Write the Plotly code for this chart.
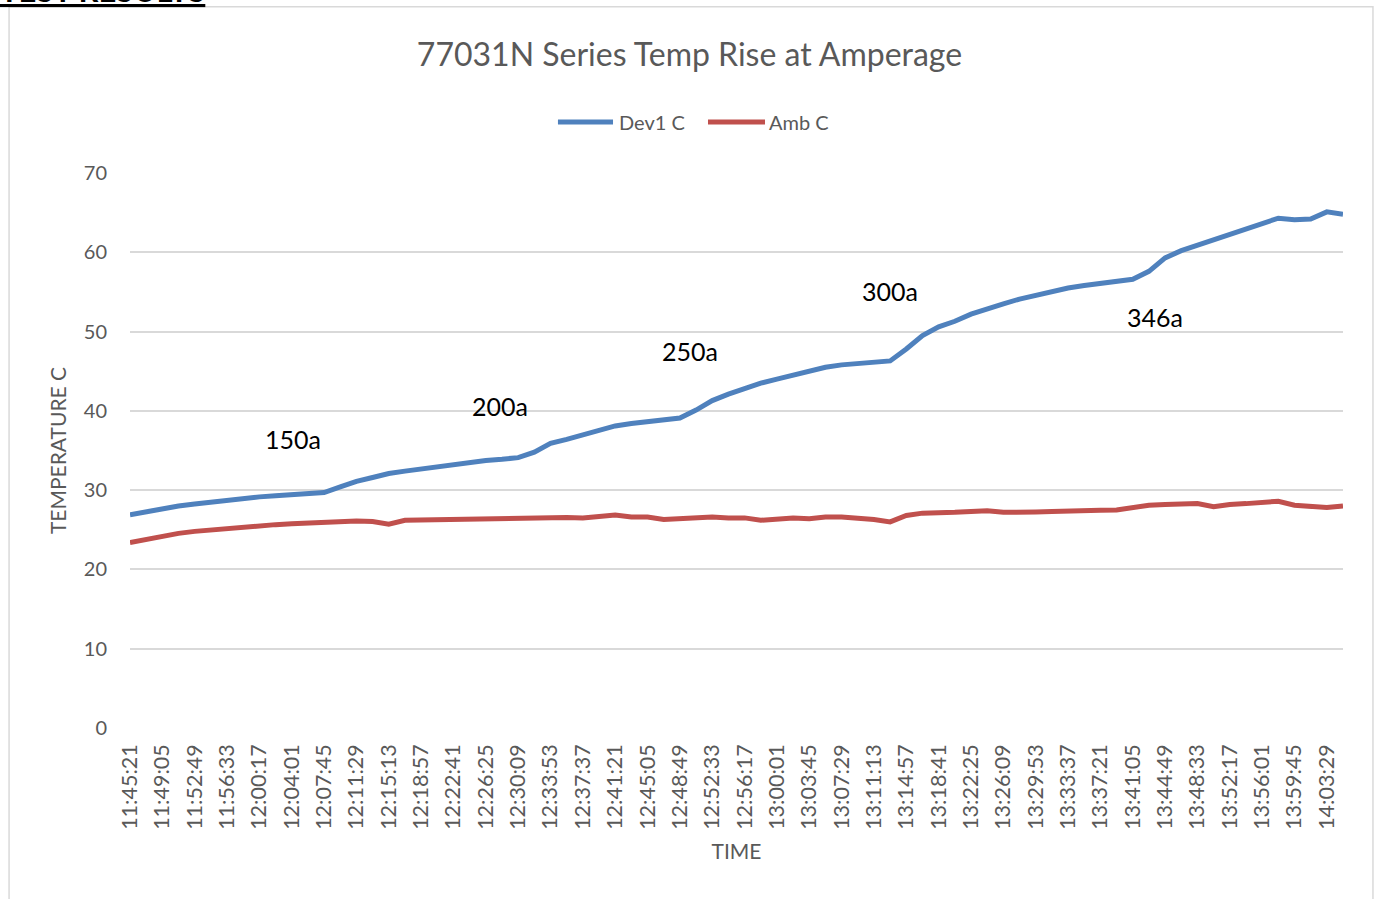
import pandas as pd
import plotly.graph_objects as go

# ---- data ----
tick_labels = ["11:45:21", "11:49:05", "11:52:49", "11:56:33", "12:00:17", "12:04:01",
               "12:07:45", "12:11:29", "12:15:13", "12:18:57", "12:22:41", "12:26:25",
               "12:30:09", "12:33:53", "12:37:37", "12:41:21", "12:45:05", "12:48:49",
               "12:52:33", "12:56:17", "13:00:01", "13:03:45", "13:07:29", "13:11:13",
               "13:14:57", "13:18:41", "13:22:25", "13:26:09", "13:29:53", "13:33:37",
               "13:37:21", "13:41:05", "13:44:49", "13:48:33", "13:52:17", "13:56:01",
               "13:59:45", "14:03:29"]

# sample times (every 1:52, i.e. half a tick step)
times = [t.strftime("%H:%M:%S") for t in
         pd.date_range("2000-01-01 11:45:21", periods=76, freq="112s")]

dev1_c = [26.9, 27.3, 27.7, 28.0, 28.25, 28.5, 28.75, 28.95, 29.15, 29.3,
          29.45, 29.6, 29.7, 30.4, 31.1, 31.6, 32.1, 32.4, 32.7, 33.0,
          33.25, 33.5, 33.75, 33.9, 34.1, 34.8, 35.9, 36.4, 37.0, 37.5,
          38.1, 38.4, 38.65, 38.95, 39.1, 40.1, 41.3, 42.1, 42.8, 43.5,
          44.0, 44.5, 45.0, 45.5, 45.8, 46.0, 46.1, 46.3, 47.8, 49.5,
          50.6, 51.3, 52.2, 52.9, 53.5, 54.1, 54.6, 55.0, 55.5, 55.8,
          56.1, 56.4, 56.6, 57.6, 59.3, 60.2, 60.9, 61.6, 62.3, 63.0,
          63.6, 64.3, 64.1, 64.2, 65.1, 64.8]

amb_c = [23.4, 23.8, 24.2, 24.55, 24.8, 25.0, 25.15, 25.35, 25.5, 25.65,
         25.75, 25.85, 25.9, 26.0, 26.1, 26.05, 25.7, 26.2, 26.25, 26.3,
         26.3, 26.35, 26.3, 26.4, 26.4, 26.45, 26.5, 26.55, 26.5, 26.7,
         26.85, 26.6, 26.6, 26.3, 26.4, 26.6, 26.6, 26.5, 26.5, 26.2,
         26.4, 26.5, 26.4, 26.6, 26.6, 26.5, 26.3, 26.0, 26.8, 27.1,
         27.1, 27.2, 27.3, 27.4, 27.2, 27.15, 27.25, 27.3, 27.4, 27.5,
         27.45, 27.5, 27.8, 28.1, 28.2, 28.2, 28.3, 27.9, 28.2, 28.3,
         28.4, 28.6, 28.1, 28.0, 27.8, 28.0]

series_names = ["Dev1 C", "Amb C"]

amp_labels = ["150a", "200a", "250a", "300a", "346a"]
amp_x_index = [10.1, 22.9, 34.6, 47.0, 63.4]   # category index position
amp_y = [36.4, 40.6, 47.5, 55.1, 51.8]

y_ticks = [0, 10, 20, 30, 40, 50, 60, 70]

# ---- styling ----
FONT = "Lato"
GRAY = "#595959"
GRID = "#d9d9d9"
BLUE = "#4F81BD"
RED = "#C0504D"
COLORS = [BLUE, RED]

fig = go.Figure()
for name, vals, col in zip(series_names, [dev1_c, amb_c], COLORS):
    fig.add_trace(go.Scatter(x=times, y=vals, mode="lines", name=name,
                             line=dict(color=col, width=5), showlegend=False))

for lab, xi, yv in zip(amp_labels, amp_x_index, amp_y):
    fig.add_annotation(x=xi, y=yv, xref="x", yref="y", text=lab, showarrow=False,
                       font=dict(family=FONT, size=25, color="black"))

# legend drawn Excel-style (long line keys) in paper coordinates
legend_line_x = [(0.3528, 0.3982), (0.4765, 0.5235)]
legend_text_x = [0.4015, 0.5251]
LEG_Y = 1.0919
for name, col, (lx0, lx1), tx in zip(series_names, COLORS, legend_line_x, legend_text_x):
    fig.add_shape(type="line", xref="paper", yref="paper", x0=lx0, x1=lx1,
                  y0=LEG_Y, y1=LEG_Y, line=dict(color=col, width=5))
    fig.add_annotation(x=tx, y=LEG_Y, xref="paper", yref="paper", xanchor="left",
                       yanchor="middle", text=name, showarrow=False,
                       font=dict(family=FONT, size=20, color=GRAY))

# partial heading above the chart (cut off at the top of the page, as in the source)
fig.add_annotation(x=0.0635, y=1.2919, xref="paper", yref="paper",
                   xanchor="right", yanchor="bottom",
                   text="<b><u>TEST RESULTS</u></b>", showarrow=False,
                   font=dict(family=FONT, size=31, color="black"))

# chart border
fig.add_shape(type="rect", xref="paper", yref="paper",
              x0=-0.0997, x1=1.0247, y0=-0.33, y1=1.2995,
              line=dict(color=GRID, width=1.5), fillcolor="rgba(0,0,0,0)", layer="below")

fig.update_layout(
    width=1379, height=899,
    margin=dict(l=130, r=36, t=173, b=171, autoexpand=False),
    paper_bgcolor="white", plot_bgcolor="white",
    font=dict(family=FONT, color=GRAY),
    title=dict(text="77031N Series Temp Rise at Amperage", x=0.5, xref="container",
               xanchor="center", y=1 - 55 / 899, yref="container", yanchor="middle",
               font=dict(family=FONT, size=32, color=GRAY)),
    showlegend=False,
    xaxis=dict(type="category", range=[0, len(times) - 1], tickmode="array",
               tickvals=tick_labels, ticktext=tick_labels, tickangle=-90,
               tickfont=dict(family=FONT, size=21.5, color=GRAY),
               showgrid=False, zeroline=False, showline=False, ticks="",
               ticklabelstandoff=11,
               title=dict(text="TIME", font=dict(family=FONT, size=21, color=GRAY),
                          standoff=15)),
    yaxis=dict(range=[0, 70], tickmode="array", tickvals=y_ticks,
               tickfont=dict(family=FONT, size=20, color=GRAY),
               showgrid=True, gridcolor=GRID, gridwidth=1.5, zeroline=False,
               showline=False, ticks="", ticklabelstandoff=22,
               title=dict(text="TEMPERATURE C", font=dict(family=FONT, size=21, color=GRAY),
                          standoff=11)),
)

fig.write_html("out.html", config={"displayModeBar": False},
               post_script="document.body.style.margin='0';")
